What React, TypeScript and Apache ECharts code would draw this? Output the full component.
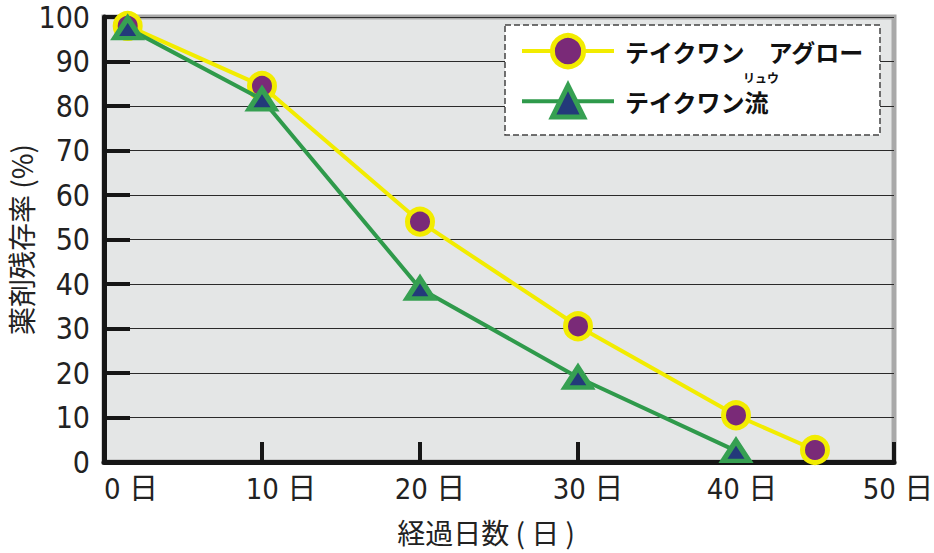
import React, { useEffect, useRef } from "react";
import * as echarts from "echarts";

const seriesNames = ["テイクワン　アグロー", "テイクワン流"];
const agroDays = [1.5, 10, 20, 30, 40, 45];
const agroValues = [98, 84.5, 54, 30.5, 10.5, 2.7];
const ryuDays = [1.5, 10, 20, 30, 40];
const ryuValues = [97.5, 81.5, 39, 19, 2.5];
const xLabelSuffix = " 日";
const xAxisName = "経過日数 ( 日 )";
const yAxisName = "薬剤残存率 (%)";
const rubyText = "リュウ";

const NARROW = "'Liberation Sans Narrow', 'DejaVu Sans Condensed', 'Noto Sans CJK JP', sans-serif";
const JP = "'Noto Sans CJK JP', sans-serif";

const xLabelShift: Record<number, number> = { 0: 54, 10: 38, 20: 20, 30: 20, 40: 12, 50: 8 };

export default function App() {
  const ref = useRef<HTMLDivElement>(null);
  useEffect(() => {
    if (!ref.current) return;
    const chart = echarts.init(ref.current, undefined, { renderer: "svg" });
    const rich: Record<string, any> = {};
    Object.keys(xLabelShift).forEach((k) => {
      rich["p" + k] = {
        padding: [0, 0, 0, xLabelShift[Number(k)]],
        fontSize: 29,
        fontFamily: NARROW,
        color: "#222",
      };
    });
    chart.setOption({
      animation: false,
      backgroundColor: "#ffffff",
      grid: {
        left: 104,
        right: 40,
        top: 17,
        bottom: 91,
        show: true,
        outerBoundsMode: "none",
        containLabel: false,
        backgroundColor: "#e4e6e6",
        borderColor: "#a9a9a9",
        borderWidth: 5,
      },
      xAxis: {
        type: "value",
        min: 0,
        max: 50,
        interval: 10,
        name: xAxisName,
        nameLocation: "middle",
        nameGap: 56,
        nameMoveOverlap: false,
        nameTextStyle: { fontSize: 28, fontFamily: JP, color: "#222", padding: [0, 26, 0, 0] },
        axisLine: { show: true, lineStyle: { color: "#161616", width: 5 } },
        axisTick: { show: true, inside: true, length: 20, lineStyle: { color: "#161616", width: 4 } },
        splitLine: { show: false },
        axisLabel: {
          margin: 12,
          fontSize: 29,
          fontFamily: NARROW,
          color: "#222",
          formatter: (v: number) => `{p${v}|${v}${xLabelSuffix}}`,
          rich,
        },
      },
      yAxis: {
        type: "value",
        min: 0,
        max: 100,
        interval: 10,
        name: yAxisName,
        nameLocation: "middle",
        nameGap: 69,
        nameMoveOverlap: false,
        nameTextStyle: { fontSize: 28, fontFamily: JP, color: "#222" },
        axisLine: { show: true, lineStyle: { color: "#161616", width: 5 } },
        axisTick: { show: true, inside: true, length: 26, lineStyle: { color: "#161616", width: 4 } },
        splitLine: { show: true, lineStyle: { color: "#2a2a2a", width: 1.2 } },
        axisLabel: {
          margin: 14,
          fontSize: 30,
          fontFamily: NARROW,
          color: "#222",
          padding: [12, 0, 0, 0],
        },
      },
      legend: {
        orient: "vertical",
        left: 520,
        top: 33,
        padding: 0,
        itemWidth: 92,
        itemHeight: 39,
        itemGap: 14,
        z: 20,
        itemStyle: { borderWidth: 5 },
        lineStyle: { width: 4 },
        textStyle: {
          fontSize: 24,
          fontWeight: "bold",
          fontFamily: JP,
          color: "#111",
          padding: [0, 0, 0, 6],
        },
        data: seriesNames,
      },
      graphic: [
        {
          type: "rect",
          z: 10,
          shape: { x: 505, y: 25, width: 375, height: 110 },
          style: { fill: "#ffffff", stroke: "#444", lineWidth: 1.5, lineDash: [6, 3] },
        },
        {
          type: "text",
          z: 30,
          x: 743,
          y: 71,
          style: { text: rubyText, fontSize: 12, fontWeight: "bold", fontFamily: JP, fill: "#111" },
        },
      ],
      series: [
        {
          name: seriesNames[0],
          type: "line",
          data: agroDays.map((d, i) => [d, agroValues[i]]),
          symbol: "circle",
          symbolSize: 25,
          lineStyle: { color: "#f2ec00", width: 4 },
          itemStyle: { color: "#7a2a78", borderColor: "#f2ec00", borderWidth: 5 },
          z: 3,
        },
        {
          name: seriesNames[1],
          type: "line",
          data: ryuDays.map((d, i) => [d, ryuValues[i]]),
          symbol: "triangle",
          symbolSize: [26, 20],
          lineStyle: { color: "#2f9a4b", width: 4 },
          itemStyle: { color: "#233a7a", borderColor: "#36a052", borderWidth: 5 },
          z: 4,
        },
      ],
    });
    return () => chart.dispose();
  }, []);
  return (
    <div
      ref={ref}
      style={{ position: "fixed", left: 0, top: 0, width: 934, height: 553, background: "#fff" }}
    />
  );
}
